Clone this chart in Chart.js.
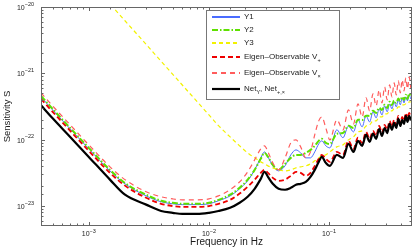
<!DOCTYPE html>
<html>
<head>
<meta charset="utf-8">
<script src="https://cdn.jsdelivr.net/npm/chart.js@4.4.1/dist/chart.umd.min.js"></script>
<style>
  html, body { margin: 0; padding: 0; background: #fff; }
  canvas { display: block; }
</style>
</head>
<body>
<canvas id="sens-chart" width="415" height="249"></canvas>
<script>
// frequency grid in Hz
const freq = [4e-4, 5e-4, 7e-4, 1e-3, 1.5e-3, 2e-3, 3e-3, 4e-3, 5e-3, 6e-3, 8e-3, 0.01, 0.012,
  0.015, 0.018, 0.021, 0.024, 0.027, 0.029, 0.031, 0.034, 0.038, 0.043, 0.048, 0.053, 0.058, 0.064, 0.070, 0.076, 0.082, 0.087, 0.094,
  0.1015, 0.116, 0.1305, 0.145, 0.1595, 0.174, 0.1885, 0.203, 0.2175, 0.232, 0.2465, 0.261, 0.2755, 0.29, 0.3045, 0.319, 0.3335,
  0.348, 0.3625, 0.377, 0.3915, 0.406, 0.4205, 0.435, 0.4495, 0.464, 0.4785];

const y1 = [4.42e-22, 2.81e-22, 1.45e-22, 7.27e-23, 3.39e-23, 2.16e-23, 1.42e-23, 1.16e-23, 1.08e-23, 1.05e-23, 1.05e-23, 1.08e-23, 1.2e-23,
  1.42e-23, 1.82e-23, 2.4e-23, 3.51e-23, 5.32e-23, 6.55e-23, 5.5e-23, 4.03e-23, 3.39e-23, 4.03e-23, 5.9e-23, 7.02e-23, 6.33e-23, 5.32e-23, 5.32e-23, 6.55e-23, 8.65e-23, 9.6e-23, 8.07e-23,
  7.53e-23, 1.41e-22, 1.07e-22, 1.61e-22, 1.31e-22, 1.99e-22, 1.56e-22, 2.29e-22, 1.85e-22, 2.63e-22, 2.13e-22, 2.91e-22, 2.36e-22, 3.23e-22, 2.63e-22,
  3.46e-22, 2.91e-22, 3.71e-22, 3.12e-22, 3.98e-22, 3.35e-22, 4.27e-22, 3.59e-22, 4.42e-22, 3.85e-22, 4.73e-22, 4.12e-22];

const y2 = [4.58e-22, 2.91e-22, 1.5e-22, 7.53e-23, 3.51e-23, 2.22e-23, 1.48e-23, 1.2e-23, 1.12e-23, 1.08e-23, 1.08e-23, 1.12e-23, 1.24e-23,
  1.48e-23, 1.88e-23, 2.5e-23, 3.51e-23, 5.14e-23, 6.33e-23, 5.5e-23, 4.17e-23, 3.51e-23, 4.32e-23, 5.32e-23, 5.9e-23, 5.9e-23, 6.33e-23, 7.02e-23, 8.07e-23, 9.6e-23, 1.03e-22, 8.95e-23,
  8.6e-23, 1.23e-22, 1.26e-22, 1.62e-22, 1.5e-22, 2.0e-22, 1.98e-22, 2.3e-22, 2.28e-22, 2.73e-22, 2.53e-22, 3.03e-22, 2.8e-22, 3.37e-22, 3.0e-22,
  3.74e-22, 3.34e-22, 3.88e-22, 3.58e-22, 4.16e-22, 3.83e-22, 4.45e-22, 3.97e-22, 4.77e-22, 4.11e-22, 4.95e-22, 4.4e-22];

const y3 = [1.66e-19, 1.04e-19, 5.25e-20, 2.54e-20, 1.11e-20, 6.21e-21, 2.73e-21, 1.52e-21, 9.66e-22, 6.67e-22, 3.71e-22, 2.36e-22, 1.63e-22,
  1.1e-22, 8.07e-23, 6.33e-23, 5.32e-23, 4.63e-23, 4.32e-23, 4.03e-23, 3.76e-23, 3.51e-23, 3.39e-23, 3.51e-23, 3.76e-23, 3.9e-23, 4.03e-23, 4.32e-23, 4.8e-23, 5.32e-23, 5.7e-23, 5.9e-23,
  6.55e-23, 7.8e-23, 8.35e-23, 9.93e-23, 1.1e-22, 1.31e-22, 1.36e-22, 1.61e-22, 1.67e-22, 1.92e-22, 1.92e-22, 2.2e-22, 2.2e-22, 2.45e-22, 2.45e-22,
  2.72e-22, 2.72e-22, 2.91e-22, 2.91e-22, 3.12e-22, 3.12e-22, 3.35e-22, 3.35e-22, 3.46e-22, 3.46e-22, 3.71e-22, 3.71e-22];

const vPlus = [4.12e-22, 2.63e-22, 1.36e-22, 6.78e-23, 3.16e-23, 2.03e-23, 1.33e-23, 1.08e-23, 1.0e-23, 9.73e-24, 9.73e-24, 1.0e-23, 1.08e-23,
  1.24e-23, 1.54e-23, 1.95e-23, 2.5e-23, 3.16e-23, 3.51e-23, 3.16e-23, 2.66e-23, 2.4e-23, 2.5e-23, 2.85e-23, 3.27e-23, 3.16e-23, 2.85e-23, 3.16e-23, 4.03e-23, 5.14e-23, 5.9e-23, 5.14e-23,
  4.63e-23, 6.55e-23, 5.9e-23, 9.6e-23, 7.27e-23, 1.07e-22, 8.95e-23, 1.31e-22, 1.03e-22, 1.36e-22, 1.14e-22, 1.61e-22, 1.26e-22, 1.67e-22, 1.41e-22,
  1.92e-22, 1.56e-22, 1.99e-22, 1.67e-22, 2.29e-22, 1.79e-22, 2.2e-22, 1.92e-22, 2.53e-22, 2.06e-22, 2.53e-22, 2.2e-22];

const vCross = [5.07e-22, 3.23e-22, 1.67e-22, 8.35e-23, 3.9e-23, 2.5e-23, 1.64e-23, 1.38e-23, 1.28e-23, 1.24e-23, 1.24e-23, 1.28e-23, 1.42e-23,
  1.76e-23, 2.31e-23, 3.27e-23, 4.96e-23, 7.27e-23, 8.07e-23, 6.55e-23, 4.47e-23, 3.51e-23, 5.32e-23, 8.95e-23, 9.93e-23, 7.8e-23, 5.32e-23, 6.55e-23, 1.19e-22, 1.92e-22, 2.2e-22, 1.5e-22,
  9.93e-23, 1.99e-22, 1.41e-22, 2.81e-22, 1.73e-22, 3.46e-22, 2.2e-22, 4.27e-22, 2.72e-22, 4.9e-22, 3.23e-22, 5.62e-22, 3.59e-22, 6.24e-22, 3.98e-22,
  6.69e-22, 4.42e-22, 7.17e-22, 4.73e-22, 7.69e-22, 5.07e-22, 7.97e-22, 5.44e-22, 8.53e-22, 5.83e-22, 8.83e-22, 6.03e-22];

const net = [3.3e-22, 2.1e-22, 1.1e-22, 5.5e-23, 2.5e-23, 1.48e-23, 1.05e-23, 8.4e-24, 7.9e-24, 7.6e-24, 7.6e-24, 7.9e-24, 8.4e-24,
  9.4e-24, 1.12e-23, 1.38e-23, 1.82e-23, 2.57e-23, 3.27e-23, 2.75e-23, 2.16e-23, 1.82e-23, 1.76e-23, 1.88e-23, 2.09e-23, 2.16e-23, 2.31e-23, 2.75e-23, 3.51e-23, 4.63e-23, 5.5e-23, 4.47e-23,
  4.03e-23, 5.9e-23, 5.32e-23, 8.65e-23, 6.55e-23, 9.6e-23, 8.07e-23, 1.19e-22, 9.27e-23, 1.23e-22, 1.03e-22, 1.45e-22, 1.14e-22, 1.5e-22, 1.26e-22,
  1.73e-22, 1.41e-22, 1.79e-22, 1.5e-22, 2.06e-22, 1.61e-22, 1.99e-22, 1.73e-22, 2.29e-22, 1.85e-22, 2.29e-22, 1.99e-22];

// axis decades that get a "10^n" label
const xTickExp = [-3, -2, -1];
const yTickExp = [-23, -22, -21, -20];

const seriesNames = ['Y1', 'Y2', 'Y3', 'Eigen–Observable V+', 'Eigen–Observable V×', 'NetY, Net+,×'];
// legend text split into [normal, subscript] pieces
const legendText = [
  [['Y1', '']],
  [['Y2', '']],
  [['Y3', '']],
  [['Eigen–Observable V', '+']],
  [['Eigen–Observable V', '×']],
  [['Net', 'Y'], [', Net', '+,×']],
];

const FONT = '"Liberation Sans", Arial, Helvetica, sans-serif';

const styles = [
  { color: '#4a6cff', width: 1, dash: [] },
  { color: '#5ee000', width: 2, dash: [6, 2, 1.5, 2] },
  { color: '#f2f200', width: 1.2, dash: [4, 3] },
  { color: '#ee0000', width: 1.8, dash: [5, 3] },
  { color: '#ff5c5c', width: 1.2, dash: [5, 4] },
  { color: '#000000', width: 2.2, dash: [] },
];
const drawOrder = [5, 4, 3, 2, 1, 0]; // net on top, like the original plot

const allSeries = [y1, y2, y3, vPlus, vCross, net];

const isDecade = (v) => Math.abs(Math.log10(v) - Math.round(Math.log10(v))) < 1e-9;

// frame, inward tick marks and 10^n labels
const axesBox = {
  id: 'axesBox',
  afterDatasetsDraw(chart) {
    const { ctx, chartArea: a } = chart;
    const xs = chart.scales.x, ys = chart.scales.y;
    ctx.save();
    ctx.strokeStyle = '#666';
    ctx.lineWidth = 1;
    ctx.setLineDash([]);
    ctx.strokeRect(a.left + 0.5, a.top + 0.5, a.right - a.left - 1, a.bottom - a.top - 1);

    ctx.beginPath();
    xs.ticks.forEach((t) => {
      const px = Math.round(xs.getPixelForValue(t.value)) + 0.5;
      if (px <= a.left + 1 || px >= a.right - 1) return;
      const len = isDecade(t.value) ? 4 : 2.5;
      ctx.moveTo(px, a.bottom); ctx.lineTo(px, a.bottom - len);
      ctx.moveTo(px, a.top); ctx.lineTo(px, a.top + len);
    });
    ys.ticks.forEach((t) => {
      const py = Math.round(ys.getPixelForValue(t.value)) + 0.5;
      if (py <= a.top + 1 || py >= a.bottom - 1) return;
      const len = isDecade(t.value) ? 4 : 2.5;
      ctx.moveTo(a.left, py); ctx.lineTo(a.left + len, py);
      ctx.moveTo(a.right, py); ctx.lineTo(a.right - len, py);
    });
    ctx.stroke();

    ctx.fillStyle = '#222';
    ctx.textBaseline = 'middle';
    const big = '7px ' + FONT, small = '5.5px ' + FONT;
    xTickExp.forEach((e) => {
      const px = xs.getPixelForValue(Math.pow(10, e));
      const ex = '−' + Math.abs(e);
      ctx.font = big; const w1 = ctx.measureText('10').width;
      ctx.font = small; const w2 = ctx.measureText(ex).width;
      const x0 = px - (w1 + w2) / 2;
      ctx.textAlign = 'left';
      ctx.font = big; ctx.fillText('10', x0, 234);
      ctx.font = small; ctx.fillText(ex, x0 + w1, 231);
    });
    yTickExp.forEach((e) => {
      const py = ys.getPixelForValue(Math.pow(10, e));
      const ex = '−' + Math.abs(e);
      ctx.font = small; const w2 = ctx.measureText(ex).width;
      const xr = a.left - 7;
      ctx.textAlign = 'right';
      ctx.fillText(ex, xr, py - 3);
      ctx.font = big; ctx.fillText('10', xr - w2, py + 1);
    });
    ctx.restore();
  }
};

// boxed legend inside the plot
const legendBox = {
  id: 'legendBox',
  afterDraw(chart) {
    const ctx = chart.ctx;
    const bx = 206, by = 10, bw = 133, bh = 89;
    const rows = [17, 30, 43, 57, 73, 89];
    ctx.save();
    ctx.fillStyle = '#fff';
    ctx.fillRect(bx, by, bw, bh);
    ctx.strokeStyle = '#777';
    ctx.lineWidth = 1;
    ctx.strokeRect(bx + 0.5, by + 0.5, bw, bh);

    styles.forEach((st, i) => {
      const yy = rows[i];
      ctx.strokeStyle = st.color;
      ctx.lineWidth = Math.max(2, st.width);
      ctx.setLineDash(st.dash);
      ctx.beginPath();
      ctx.moveTo(212, yy);
      ctx.lineTo(240, yy);
      ctx.stroke();

      ctx.setLineDash([]);
      ctx.fillStyle = '#222';
      ctx.textBaseline = 'middle';
      ctx.textAlign = 'left';
      let tx = 244;
      legendText[i].forEach(([main, sub]) => {
        ctx.font = '8px ' + FONT;
        ctx.fillText(main, tx, rows[i]);
        tx += ctx.measureText(main).width;
        if (sub) {
          ctx.font = '5.5px ' + FONT;
          ctx.fillText(sub, tx, rows[i] + 3);
          tx += ctx.measureText(sub).width;
        }
      });
    });
    ctx.restore();
  }
};

const datasets = allSeries.map((vals, i) => ({
  label: seriesNames[i],
  data: freq.map((f, k) => ({ x: f, y: vals[k] })),
  borderColor: styles[i].color,
  borderWidth: styles[i].width,
  borderDash: styles[i].dash,
  borderJoinStyle: 'round',
  pointRadius: 0,
  cubicInterpolationMode: 'monotone',
  fill: false,
  order: drawOrder[i],
}));

new Chart(document.getElementById('sens-chart'), {
  type: 'line',
  data: { datasets },
  options: {
    responsive: false,
    animation: false,
    devicePixelRatio: 1,
    layout: { padding: { top: 7, right: 3, left: 0, bottom: 0 } },
    plugins: { legend: { display: false }, tooltip: { enabled: false } },
    scales: {
      x: {
        type: 'logarithmic',
        min: 4e-4,
        max: 0.49,
        grid: { display: false, drawTicks: false },
        border: { display: false },
        ticks: { display: false },
        title: {
          display: true,
          text: 'Frequency in Hz',
          color: '#1a1a1a',
          font: { family: FONT, size: 10 },
          padding: { top: 0, bottom: 1 },
        },
        afterFit(scale) { scale.height = 23; },
      },
      y: {
        type: 'logarithmic',
        min: 5e-24,
        max: 1e-20,
        grid: { display: false, drawTicks: false },
        border: { display: false },
        ticks: { display: false },
        title: {
          display: true,
          text: 'Sensitivity S',
          color: '#1a1a1a',
          font: { family: FONT, size: 9.5 },
          padding: { top: 2, bottom: 0 },
        },
        afterFit(scale) { scale.width = 41; },
      },
    },
  },
  plugins: [axesBox, legendBox],
});
</script>
</body>
</html>
